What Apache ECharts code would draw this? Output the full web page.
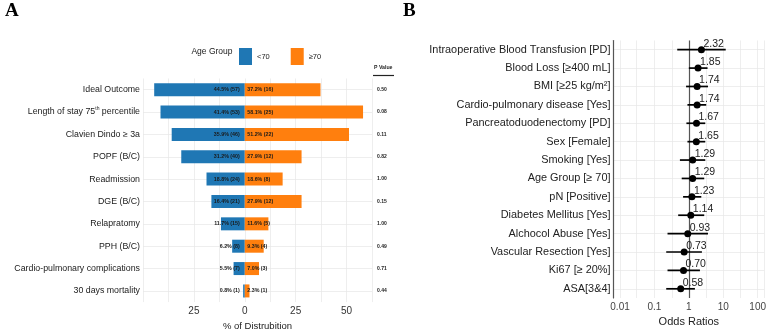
<!DOCTYPE html>
<html lang="en">
<head>
<meta charset="UTF-8">
<title>Outcomes by age group and odds ratios</title>
<script src="https://cdn.jsdelivr.net/npm/echarts@6.0.0/dist/echarts.min.js"></script>
<style>html, body { margin: 0; padding: 0; background: #fff; }</style>
</head>
<body>
<div id="chart" style="width: 769px; height: 336px;"></div>
<script>
// Panel A: outcomes split by age group
var outcomes = ['Ideal Outcome', 'Length of stay 75th percentile', 'Clavien Dindo ≥ 3a', 'POPF (B/C)',
  'Readmission', 'DGE (B/C)', 'Relapratomy', 'PPH (B/C)', 'Cardio-pulmonary complications', '30 days mortality'];
var youngPct = [44.5, 41.4, 35.9, 31.2, 18.8, 16.4, 11.7, 6.2, 5.5, 0.8];
var youngN = [57, 53, 46, 40, 24, 21, 15, 8, 7, 1];
var oldPct = [37.2, 58.1, 51.2, 27.9, 18.6, 27.9, 11.6, 9.3, 7.0, 2.3];
var oldN = [16, 25, 22, 12, 8, 12, 5, 4, 3, 1];
var pValues = ['0.50', '0.08', '0.11', '0.82', '1.00', '0.15', '1.00', '0.49', '0.71', '0.44'];

// Panel B: odds ratios with confidence intervals
var factors = ['Intraoperative Blood Transfusion [PD]', 'Blood Loss [≥400 mL]', 'BMI [≥25 kg/m²]',
  'Cardio-pulmonary disease [Yes]', 'Pancreatoduodenectomy [PD]', 'Sex [Female]', 'Smoking [Yes]',
  'Age Group [≥ 70]', 'pN [Positive]', 'Diabetes Mellitus [Yes]', 'Alchocol Abuse [Yes]',
  'Vascular Resection [Yes]', 'Ki67 [≥ 20%]', 'ASA[3&4]'];
var oddsRatio = [2.32, 1.85, 1.74, 1.74, 1.67, 1.65, 1.29, 1.29, 1.23, 1.14, 0.93, 0.73, 0.70, 0.58];
var ciLow = [0.46, 1.0, 0.83, 0.91, 0.85, 0.91, 0.55, 0.62, 0.68, 0.49, 0.24, 0.22, 0.24, 0.22];
var ciHigh = [11.8, 3.5, 3.6, 3.2, 3.0, 3.0, 3.0, 2.8, 2.3, 2.8, 3.6, 2.4, 2.1, 1.5];
var halfDecades = [0.0316, 0.316, 3.16, 31.6];

var font = 'Liberation Sans, Arial, sans-serif';
var textColor = '#1a1a1a';
var gridColor = '#e6e6e6';

var chart = echarts.init(document.getElementById('chart'));

var barLabel = function (pct, n) {
  return function (p) { return pct[p.dataIndex].toFixed(1) + '% (' + n[p.dataIndex] + ')'; };
};

chart.setOption({
  animation: false,
  textStyle: { fontFamily: font },
  legend: {
    left: 234, top: 43, itemWidth: 13, itemHeight: 17, itemGap: 21, icon: 'rect',
    textStyle: { fontSize: 7.5, color: textColor },
    data: ['<70', '≥70']
  },
  grid: [
    { left: 143, right: 397, top: 78.5, bottom: 28.2 },
    { left: 613.5, right: 0.5, top: 40.5, bottom: 38 }
  ],
  xAxis: [
    {
      type: 'value', gridIndex: 0, min: -50, max: 62.5, interval: 12.5,
      name: '% of Distrubition', nameLocation: 'middle', nameGap: 13,
      nameTextStyle: { fontSize: 9.5, color: textColor },
      axisLine: { show: false }, axisTick: { show: false },
      axisLabel: {
        fontSize: 10, color: '#333', margin: 4, showMinLabel: true,
        formatter: function (v) { return (v % 25 === 0 && v !== -50) ? String(Math.abs(v)) : ''; }
      },
      splitLine: { lineStyle: { color: gridColor, width: 0.7 } }
    },
    {
      type: 'log', gridIndex: 1, logBase: 10, min: 0.00646, max: 154.9, splitNumber: 4,
      name: 'Odds Ratios', nameLocation: 'middle', nameGap: 13,
      nameTextStyle: { fontSize: 11, color: '#222' },
      axisLine: { lineStyle: { color: '#555', width: 1.2 } },
      axisTick: { show: false },
      axisLabel: {
        fontSize: 10, color: '#444', margin: 4, showMinLabel: false, showMaxLabel: false,
        formatter: function (v) { return String(+(+v).toPrecision(2)); }
      },
      splitLine: { lineStyle: { color: gridColor, width: 0.7 } }
    }
  ],
  yAxis: [
    {
      type: 'category', gridIndex: 0, inverse: true, data: outcomes,
      axisLine: { show: false }, axisTick: { show: false },
      axisLabel: {
        fontSize: 8.8, color: textColor, margin: 3, lineHeight: 11,
        formatter: function (v) { return v.replace('75th', '75{sup|th}'); },
        rich: { sup: { fontSize: 5, verticalAlign: 'top', lineHeight: 11, color: textColor } }
      },
      splitLine: { show: true, alignWithLabel: true, lineStyle: { color: gridColor, width: 0.7 } }
    },
    {
      type: 'category', gridIndex: 0, inverse: true, position: 'right', data: pValues,
      axisLine: { show: false }, axisTick: { show: false },
      axisLabel: { fontSize: 5, fontWeight: 'bold', color: '#222', margin: 5 },
      splitLine: { show: false }
    },
    {
      type: 'category', gridIndex: 1, inverse: true, data: factors,
      axisLine: { lineStyle: { color: '#555', width: 1.2 } }, axisTick: { show: false },
      axisLabel: { fontSize: 10.9, color: '#222', margin: 3 },
      splitLine: { show: true, alignWithLabel: true, lineStyle: { color: gridColor, width: 0.7 } }
    }
  ],
  graphic: [
    { type: 'text', left: 5, top: 2, style: { text: 'A', font: 'bold 19px Liberation Serif, Times New Roman, serif', fill: '#000' } },
    { type: 'text', left: 403, top: 2, style: { text: 'B', font: 'bold 19px Liberation Serif, Times New Roman, serif', fill: '#000' } },
    { type: 'text', right: 769 - 232.5, top: 47, style: { text: 'Age Group', font: '8.5px ' + font, fill: textColor } },
    { type: 'text', left: 374, top: 65, style: { text: 'P Value', font: 'bold 5.2px ' + font, fill: '#222' } },
    { type: 'line', shape: { x1: 373, y1: 75.5, x2: 394, y2: 75.5 }, style: { stroke: '#222', lineWidth: 1.2 } }
  ],
  series: [
    {
      name: '<70', type: 'bar', xAxisIndex: 0, yAxisIndex: 0, stack: 'age', barWidth: 13,
      itemStyle: { color: '#1f77b4' },
      data: youngPct.map(function (v) { return -v; }),
      label: {
        show: true, position: 'insideRight', distance: 5, fontSize: 5.3, fontWeight: 'bold',
        color: textColor, formatter: barLabel(youngPct, youngN)
      }
    },
    {
      name: '≥70', type: 'bar', xAxisIndex: 0, yAxisIndex: 0, stack: 'age', barWidth: 13,
      itemStyle: { color: '#ff7f0e' },
      data: oldPct,
      label: {
        show: true, position: 'insideLeft', distance: 2.5, fontSize: 5.3, fontWeight: 'bold',
        color: textColor, formatter: barLabel(oldPct, oldN)
      }
    },
    {
      type: 'line', xAxisIndex: 1, yAxisIndex: 2, data: [], z: 1,
      markLine: {
        silent: true, symbol: 'none', label: { show: false },
        data: halfDecades.map(function (v) {
          return { xAxis: v, lineStyle: { color: gridColor, width: 0.7, type: 'solid' } };
        }).concat([{ xAxis: 1, lineStyle: { color: '#555', width: 1.2, type: 'solid' } }])
      }
    },
    {
      type: 'custom', xAxisIndex: 1, yAxisIndex: 2, z: 9,
      data: factors.map(function (f, i) { return [ciLow[i], ciHigh[i], i]; }),
      encode: { x: [0, 1], y: 2 },
      renderItem: function (params, api) {
        var a = api.coord([api.value(0), api.value(2)]);
        var b = api.coord([api.value(1), api.value(2)]);
        return {
          type: 'line',
          shape: { x1: a[0], y1: a[1], x2: b[0], y2: b[1] },
          style: { stroke: '#000', lineWidth: 1.7 }
        };
      }
    },
    {
      type: 'scatter', xAxisIndex: 1, yAxisIndex: 2, z: 10, symbolSize: 7,
      itemStyle: { color: '#000', opacity: 1 },
      data: oddsRatio.map(function (v, i) { return [v, i]; }),
      label: {
        show: true, position: [5.5, -2.5], align: 'left', verticalAlign: 'middle',
        fontSize: 10.5, color: '#222',
        formatter: function (p) { return oddsRatio[p.dataIndex].toFixed(2); }
      }
    }
  ]
});
</script>
</body>
</html>
